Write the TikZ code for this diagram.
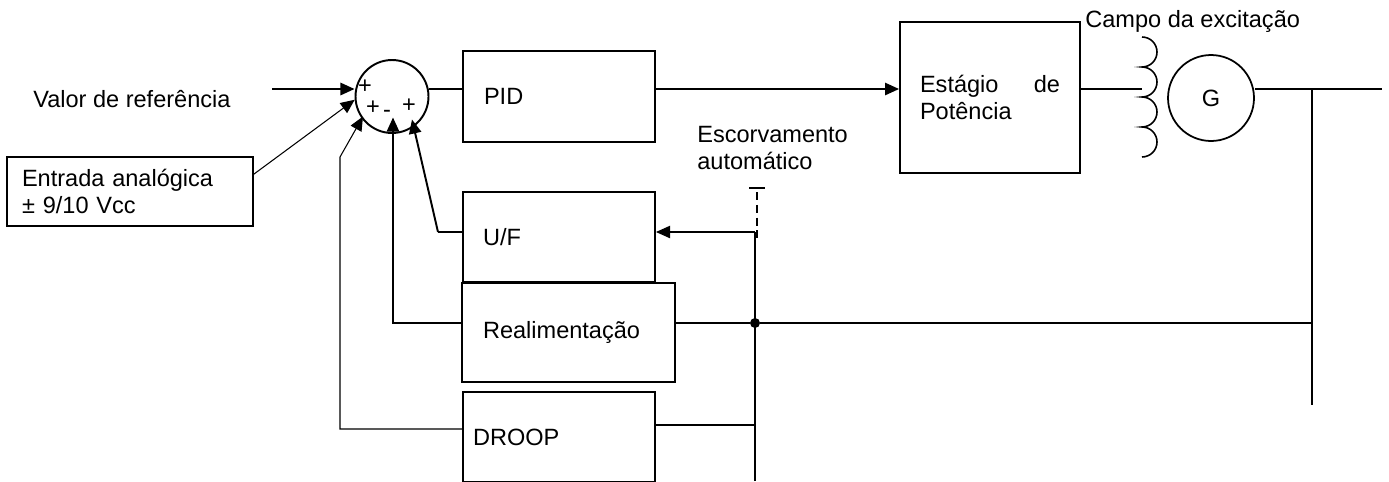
\documentclass[tikz,border=0pt]{standalone}
\usepackage{fontspec}
\setmainfont{Liberation Sans}
\usetikzlibrary{arrows.meta}

\begin{document}
\begin{tikzpicture}[x=0.02cm,y=-0.02cm,
  texto/.style={font=\fontsize{13.4}{15.3}\selectfont, inner sep=0pt},
  bloco/.style={draw, line width=1.1pt, texto, align=left, inner ysep=0pt},
  seta/.style={line width=1.1pt, -{Triangle[length=8pt,width=7pt]}},
  setafina/.style={line width=0.6pt, -{Triangle[length=8pt,width=7pt]}},
  fio/.style={line width=1.1pt},
  fiofino/.style={line width=0.6pt}]

\clip (0,0) rectangle (1389,481);
  % blocos
  \node[texto,anchor=base west] (vref) at (33,107) {Valor de referência};
  \node[bloco,inner xsep=0.3cm,text width=4.32cm,minimum height=1.38cm] (entrada) at (130,191.5) {Entrada analógica\\± 9/10 Vcc};
  \node[draw,circle,line width=1.1pt,minimum size=1.46cm,inner sep=0pt] (soma) at (392,96.5) {};
  \node[texto] (s1) at (365,87) {+};
  \node[texto] (s2) at (373,108) {+};
  \node[texto] (s3) at (387,114) {-};
  \node[texto] (s4) at (409,106) {+};
  \node[bloco,inner xsep=0.42cm,text width=3.0cm,minimum height=1.82cm] (pid) at (559,96.5) {PID};
  \node[bloco,inner xsep=0.4cm,text width=3.04cm,minimum height=1.8cm] (uf) at (559,237) {U/F};
  \node[bloco,inner xsep=0.42cm,text width=3.42cm,minimum height=1.98cm] (real) at (568.5,332.5) {Realimentação};
  \node[bloco,inner xsep=0.2cm,text width=3.44cm,minimum height=1.8cm] (droop) at (559,437) {DROOP};
  \node[bloco,inner xsep=0.4cm,text width=2.8cm,minimum height=3.02cm] (estagio) at (990,97.5) {Estágio\hskip 0pt plus 1fill de\\Potência};
  \node[draw,circle,texto,line width=1pt,minimum size=1.72cm] (ger) at (1211,98) {G};
  \node[texto,anchor=base west] (campo) at (1085,27) {Campo da excitação};
  \node[texto,align=left,anchor=north west] (escorv) at (697,126) {Escorvamento\\automático};
  \node[circle,fill,inner sep=0pt,minimum size=0.2cm] (no) at (755,323) {};

  % pontos de dobra
  \coordinate (kref) at (272,89);
  \coordinate (kdq) at (340,429);
  \coordinate (kdq2) at (340,157);
  \coordinate (kuf) at (438,232);
  \coordinate (esc) at (755,232);
  \coordinate (escb) at (755,481);
  \coordinate (kd) at (755,425);
  \coordinate (chave) at (757,188);
  \coordinate (bob) at (1142,37);
  \coordinate (barra) at (1312,89);
  \coordinate (barrab) at (1312,405);
  \coordinate (kfim) at (1382,89);

  % ligacoes
  \draw[seta] (kref) -- (soma.west |- kref);
  \draw[setafina] (entrada.8.5) -- (soma.185);
  \draw[fio] (soma.east |- kref) -- (pid.west |- kref);
  \draw[seta] (pid.east |- kref) -- (estagio.west |- kref);
  \draw[fio] (estagio.east |- kref) -- (bob |- kref);
  \draw[line width=0.9pt] (bob) arc[start angle=90,end angle=-90,radius=0.3cm]
    arc[start angle=90,end angle=-90,radius=0.3cm]
    arc[start angle=90,end angle=-90,radius=0.3cm]
    arc[start angle=90,end angle=-90,radius=0.3cm];
  \draw[fio] (ger.east |- kfim) -- (kfim);
  \draw[fio] (barra) -- (barrab);
  \draw[fiofino] (uf.west |- kuf) -- (kuf);
  \draw[seta] (kuf) -- ([shift={(20,23)}]soma.center);
  \draw[seta] (real.west |- no) -| ([shift={(1,21)}]soma.center);
  \draw[setafina] (droop.west |- kdq) -- (kdq) -- (kdq2) -- ([shift={(-29,20)}]soma.center);
  \draw[fio] (real.east |- no) -- (no) -- (barra |- no);
  \draw[line width=0.8pt] (escb) -- (esc);
  \draw[setafina] (esc) -- (uf.east |- esc);
  \draw[fiofino] (droop.east |- kd) -- (kd);
  \draw[line width=1.4pt] (chave) ++(-8,0) -- ++(16,0);
  \draw[line width=0.8pt,dash pattern=on 4.5pt off 2.8pt] (chave) ++(0,4) -- ++(0,51);
 \end{tikzpicture}
\end{document}
